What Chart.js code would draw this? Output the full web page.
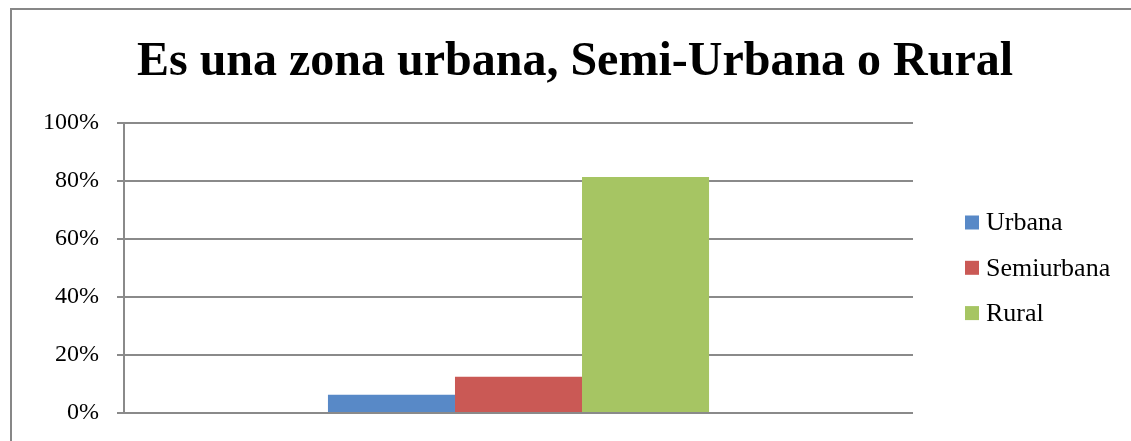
<!DOCTYPE html>
<html>
<head>
<meta charset="utf-8">
<script src="https://cdn.jsdelivr.net/npm/chart.js@4.4.1/dist/chart.umd.min.js"></script>
<style>
html,body{margin:0;padding:0;background:#fff;}
#wrap{position:relative;width:1131px;height:441px;}
</style>
</head>
<body>
<div id="wrap"><canvas id="c" width="1131" height="441"></canvas></div>
<script>
const categories = [''];
const seriesNames = ['Urbana', 'Semiurbana', 'Rural'];
const urbana = [6.25];
const semiurbana = [12.5];
const rural = [81.25];
const yTicks = [0, 20, 40, 60, 80, 100];
const colors = ['#5889C7', '#CA5955', '#A6C563'];
const titleText = 'Es una zona urbana, Semi-Urbana o Rural';

const serif = "'Liberation Serif', 'Times New Roman', serif";

const frame = {
  id: 'frame',
  beforeDraw(chart) {
    const ctx = chart.ctx;
    ctx.save();
    ctx.fillStyle = '#fff';
    ctx.fillRect(0, 0, chart.width, chart.height);
    ctx.strokeStyle = '#878787';
    ctx.lineWidth = 2;
    ctx.beginPath();
    ctx.moveTo(11, chart.height + 5);
    ctx.lineTo(11, 9);
    ctx.lineTo(chart.width + 5, 9);
    ctx.stroke();
    ctx.restore();
  }
};

// Legend drawn to the right of the plot, items from the datasets
const sideLegend = {
  id: 'sideLegend',
  afterDraw(chart) {
    const ctx = chart.ctx;
    const area = chart.chartArea;
    const ds = chart.data.datasets;
    const gap = 45.3;
    const mid = (area.top + area.bottom) / 2;
    const boxX = area.right + 52;
    const box = 14;
    ctx.save();
    ctx.font = '26px ' + serif;
    ctx.textBaseline = 'middle';
    ctx.textAlign = 'left';
    ds.forEach((d, i) => {
      const cy = mid + (i - (ds.length - 1) / 2) * gap;
      ctx.fillStyle = d.backgroundColor;
      ctx.fillRect(boxX, cy - box / 2, box, box);
      ctx.fillStyle = '#000';
      ctx.fillText(d.label, boxX + box + 7, cy + 1);
    });
    ctx.restore();
  }
};

new Chart(document.getElementById('c'), {
  type: 'bar',
  data: {
    labels: categories,
    datasets: [
      { label: seriesNames[0], data: urbana, backgroundColor: colors[0] },
      { label: seriesNames[1], data: semiurbana, backgroundColor: colors[1] },
      { label: seriesNames[2], data: rural, backgroundColor: colors[2] }
    ]
  },
  options: {
    responsive: false,
    animation: false,
    layout: { padding: { left: 41, right: 22, top: 27, bottom: 28 } },
    datasets: { bar: { categoryPercentage: 0.483, barPercentage: 1.0 } },
    scales: {
      x: { display: false },
      y: {
        min: 0, max: 100,
        afterBuildTicks(scale) { scale.ticks = yTicks.map(v => ({ value: v })); },
        afterFit(scale) { scale.width = 83; scale.paddingTop = 0; scale.paddingBottom = 0; },
        ticks: {
          callback: v => v + '%',
          color: '#000',
          padding: 18,
          font: { family: serif, size: 24 }
        },
        grid: { color: '#8a8a8a', lineWidth: 2, tickLength: 7, drawTicks: true },
        border: { display: true, color: '#8a8a8a', width: 2 }
      },
      legendSpace: {
        type: 'linear',
        position: 'right',
        display: true,
        afterFit(scale) { scale.width = 196; scale.paddingTop = 0; scale.paddingBottom = 0; },
        ticks: { display: false },
        grid: { display: false, drawTicks: false },
        border: { display: false }
      }
    },
    plugins: {
      title: {
        display: true,
        text: titleText,
        color: '#000',
        font: { family: serif, size: 48, weight: 'bold' },
        padding: { top: 7, bottom: 31 }
      },
      legend: { display: false },
      tooltip: { enabled: false }
    }
  },
  plugins: [frame, sideLegend]
});
</script>
</body>
</html>
